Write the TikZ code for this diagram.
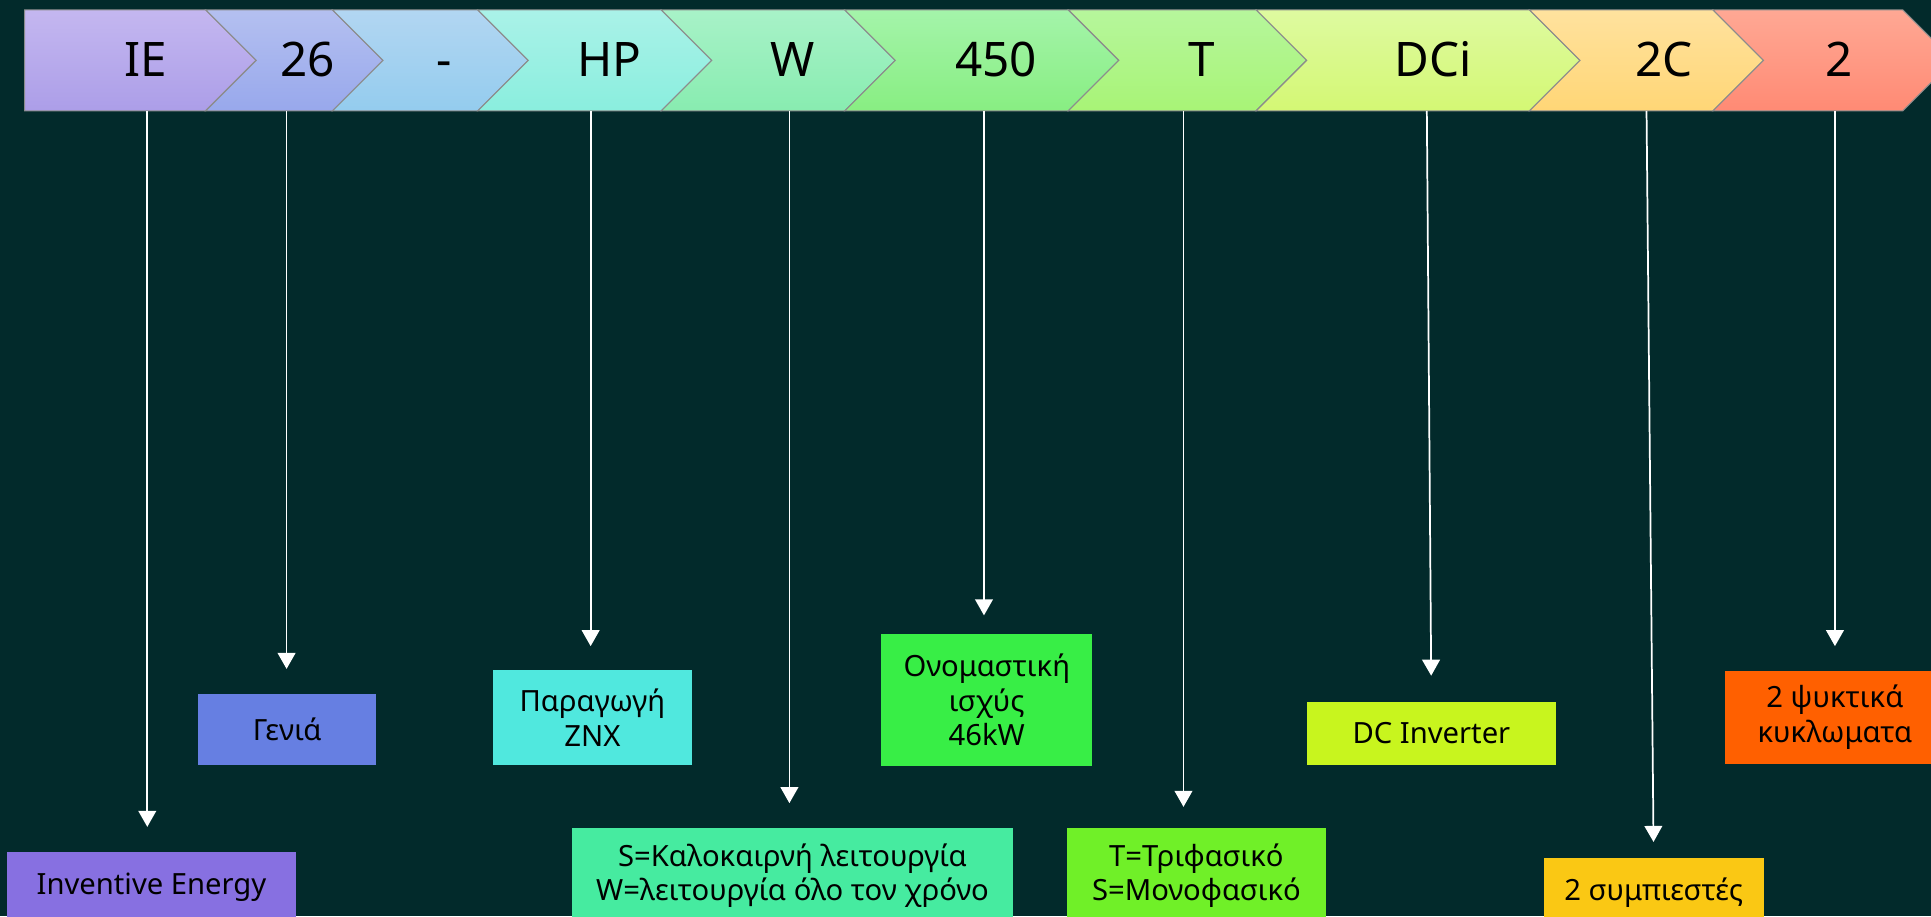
\documentclass[tikz,border=0pt]{standalone}
\usepackage{fontspec}
\setmainfont{Noto Sans}
\usetikzlibrary{arrows.meta}

\definecolor{bgteal}{RGB}{2,42,43}
% chevron gradients (top / bottom)
\definecolor{chtop1}{RGB}{196,183,240}\definecolor{chbot1}{RGB}{172,158,232}
\definecolor{chtop2}{RGB}{180,192,240}\definecolor{chbot2}{RGB}{152,168,236}
\definecolor{chtop3}{RGB}{178,214,242}\definecolor{chbot3}{RGB}{148,204,238}
\definecolor{chtop4}{RGB}{170,242,232}\definecolor{chbot4}{RGB}{138,238,222}
\definecolor{chtop5}{RGB}{168,242,200}\definecolor{chbot5}{RGB}{136,236,176}
\definecolor{chtop6}{RGB}{164,244,170}\definecolor{chbot6}{RGB}{136,238,130}
\definecolor{chtop7}{RGB}{182,246,156}\definecolor{chbot7}{RGB}{168,244,118}
\definecolor{chtop8}{RGB}{222,250,160}\definecolor{chbot8}{RGB}{212,248,116}
\definecolor{chtop9}{RGB}{255,226,158}\definecolor{chbot9}{RGB}{255,214,118}
\definecolor{chtop10}{RGB}{255,168,148}\definecolor{chbot10}{RGB}{255,138,116}
% boxes
\definecolor{box1}{RGB}{135,112,225}
\definecolor{box2}{RGB}{102,127,226}
\definecolor{box3}{RGB}{80,232,222}
\definecolor{box4}{RGB}{70,235,160}
\definecolor{box5}{RGB}{56,238,70}
\definecolor{box6}{RGB}{112,240,40}
\definecolor{box7}{RGB}{200,245,30}
\definecolor{box8}{RGB}{250,200,20}
\definecolor{box9}{RGB}{255,96,0}

\tikzset{
	chevtext/.style={font=\fontsize{22}{26}\selectfont, text=black, anchor=base},
	infobox/.style={rectangle, inner sep=0pt, align=center, text=black,
		font=\fontsize{13.5}{16}\selectfont},
	downarrow/.style={draw=white, line width=0.8pt, -{Triangle[width=8.2pt,length=7.4pt]}}
}

\begin{document}
\begin{tikzpicture}[x=0.02cm,y=-0.02cm]
	\useasboundingbox (0,0) rectangle (1568,744);
	\fill[bgteal] (0,0) rectangle (1568,744);
	
	% chevron strip
	\shadedraw[top color=chtop1,bottom color=chbot1,draw=black!45,line width=0.5pt]
	(20,8) -- (167,8) -- (208,49) -- (167,90) -- (20,90) -- cycle;
	\foreach \n/\l/\r in {2/167/270,3/270/388,4/388/537,5/537/686,6/686/867.5,7/867.5/1020,8/1020/1242,9/1242/1391,10/1391/1545}
	\shadedraw[top color=chtop\n,bottom color=chbot\n,draw=black!45,line width=0.5pt]
	(\l,8) -- (\r,8) -- (\r+41,49) -- (\r,90) -- (\l,90) -- (\l+41,49) -- cycle;
	
	\foreach \n/\x/\t in {1/118/IE,2/250/26,3/361/-,4/495/HP,5/644/W,6/809/450,7/976/T,8/1164/DCi,9/1351/2C,10/1493/2}
	\node[chevtext] (c\n) at (\x,62) {\t};
	
	% boxes
	\node[infobox,fill=box1,minimum width=4.68cm,minimum height=1.15cm] (b1) at (123,720.5) {Inventive Energy};
	\node[infobox,fill=box2,minimum width=2.89cm,minimum height=1.15cm] (b2) at (233.25,592.25) {Γενιά};
	\node[infobox,fill=box3,minimum width=3.24cm,minimum height=1.54cm] (b3) at (481,582.5) {Παραγωγή\\ZNX};
	\node[infobox,fill=box4,minimum width=7.16cm,minimum height=1.54cm] (b4) at (643.5,711) {S=Καλοκαιρνή λειτουργία\\W=λειτουργία όλο τον χρόνο};
	\node[infobox,fill=box5,minimum width=3.43cm,minimum height=2.14cm] (b5) at (801.25,568.5) {Ονομαστική\\ισχύς\\46kW};
	\node[infobox,fill=box6,minimum width=4.22cm,minimum height=1.54cm] (b6) at (971.5,711) {T=Τριφασικό\\S=Μονοφασικό};
	\node[infobox,fill=box7,minimum width=4.05cm,minimum height=1.02cm] (b7) at (1162.3,595.5) {DC Inverter};
	\node[infobox,fill=box8,minimum width=3.57cm,minimum height=1.12cm] (b8) at (1342.8,725) {2 συμπιεστές};
	\node[infobox,fill=box9,minimum width=3.56cm,minimum height=1.5cm] (b9) at (1490,582.5) {2 ψυκτικά\\κυκλωματα};
	
	% arrows
	\coordinate (s1) at (119.6,90);
	\coordinate (s2) at (232.7,90);
	\coordinate (s3) at (479.6,90);
	\coordinate (s4) at (641,90);
	\coordinate (s5) at (799,90);
	\coordinate (s6) at (961,90);
	\coordinate (s7) at (1158.6,90);
	\coordinate (s8) at (1337,90);
	\coordinate (s9) at (1490,90);
	\draw[downarrow,shorten >=0.4cm] (s1) -- (s1 |- b1.north);
	\draw[downarrow,shorten >=0.4cm] (s2) -- (s2 |- b2.north);
	\draw[downarrow,shorten >=0.38cm] (s3) -- (s3 |- b3.north);
	\draw[downarrow,shorten >=0.4cm] (s4) -- (s4 |- b4.north);
	\draw[downarrow,shorten >=0.3cm] (s5) -- (s5 |- b5.north);
	\draw[downarrow,shorten >=0.34cm] (s6) -- (s6 |- b6.north);
	\draw[downarrow,shorten >=0.42cm] (s7) -- (b7.north);
	\draw[downarrow,shorten >=0.26cm] (s8) -- (b8.north);
	\draw[downarrow,shorten >=0.4cm] (s9) -- (s9 |- b9.north);
\end{tikzpicture}
\end{document}
